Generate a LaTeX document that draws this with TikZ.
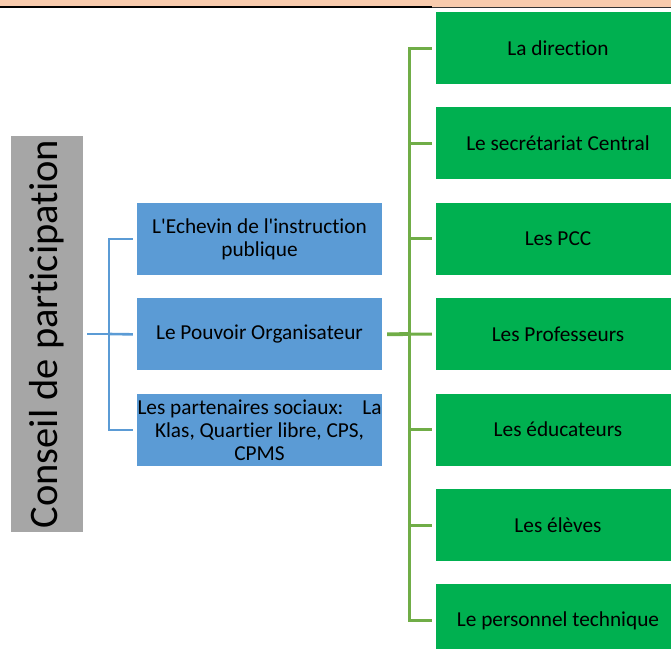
\documentclass[tikz,border=0pt]{standalone}
\usepackage{fontspec}
\setmainfont{Carlito}[Ligatures={TeXOff,NoCommon}]
\usepackage{graphicx}
\usepackage{tikz}
\usetikzlibrary{positioning}
\definecolor{bandorange}{HTML}{F8CBAD}
\definecolor{conseilgray}{HTML}{A6A6A6}
\definecolor{memberblue}{HTML}{5B9BD5}
\definecolor{staffgreen}{HTML}{00B050}
\definecolor{linkgreen}{HTML}{70AD47}
\newcommand{\boxfont}{\fontsize{21.3}{23}\selectfont}
\newcommand{\titlefont}{\fontsize{40.5}{44}\selectfont}
\tikzstyle{conseil}   = [rectangle, minimum width=72pt, minimum height=396pt, inner sep=0pt, fill=conseilgray, font=\titlefont]
\tikzstyle{member}    = [rectangle, minimum width=245pt, minimum height=72pt, inner sep=0pt, align=center, fill=memberblue, font=\boxfont]
\tikzstyle{staff}     = [rectangle, minimum width=244pt, minimum height=72pt, inner sep=0pt, align=center, fill=staffgreen, font=\boxfont]
\tikzstyle{bluelink}  = [draw=memberblue, line width=2.6pt]
\tikzstyle{greenlink} = [draw=linkgreen, line width=3pt]

\begin{document}
\begin{tikzpicture}[x=1pt, y=-1pt, node distance=23pt]
    \path [use as bounding box, clip] (0,0) rectangle (671,648);

    % top band
    \fill [bandorange] (0,0) rectangle (671,6.5);
    \draw [black, line width=2pt] (0,7) -- (432,7);
    \draw [black!80, line width=1pt] (432,7.5) -- (671,7.5);

    \node (conseil) [conseil] at (47,334) {\rotatebox{90}{Conseil de participation}};

    \node (echevin)     [member] at (259.5,239) {L\textquotesingle Echevin de l\textquotesingle instruction\\publique};
    \node (pouvoir)     [member, below=of echevin] {Le Pouvoir Organisateur};
    \node (partenaires) [member, below=of pouvoir] {\hbox to 244pt{Les partenaires sociaux:\hfill La}\\Klas, Quartier libre, CPS,\\CPMS};

    \node (direction)   [staff] at (558,48) {La direction};
    \node (secretariat) [staff, below=of direction]   {Le secrétariat Central};
    \node (pcc)         [staff, below=of secretariat] {Les PCC};
    \node (professeurs) [staff, below=of pcc]         {Les Professeurs};
    \node (educateurs)  [staff, below=of professeurs] {Les éducateurs};
    \node (eleves)      [staff, below=of educateurs]  {Les élèves};
    \node (technique)   [staff, below=of eleves]      {Le personnel technique};

    \coordinate (bluebus)  at (109,334);
    \coordinate (greenbus) at (409,334);

    \draw [bluelink, shorten <=4pt] (conseil.east) -- (bluebus);
    \draw [bluelink, shorten >=4pt] (bluebus) |- (echevin.west);
    \draw [bluelink, shorten >=4pt] (bluebus) -- (pouvoir.west);
    \draw [bluelink, shorten >=4pt] (bluebus) |- (partenaires.west);

    \draw [greenlink, line width=3.8pt, shorten <=5pt] (pouvoir.east) -- (greenbus);
    \draw [greenlink, shorten >=4pt] (greenbus) |- (direction.west);
    \draw [greenlink, shorten >=4pt] (greenbus) |- (secretariat.west);
    \draw [greenlink, shorten >=4pt] (greenbus) |- (pcc.west);
    \draw [greenlink, shorten >=4pt] (greenbus) -- (professeurs.west);
    \draw [greenlink, shorten >=4pt] (greenbus) |- (educateurs.west);
    \draw [greenlink, shorten >=4pt] (greenbus) |- (eleves.west);
    \draw [greenlink, shorten >=4pt] (greenbus) |- (technique.west);
\end{tikzpicture}
\end{document}
